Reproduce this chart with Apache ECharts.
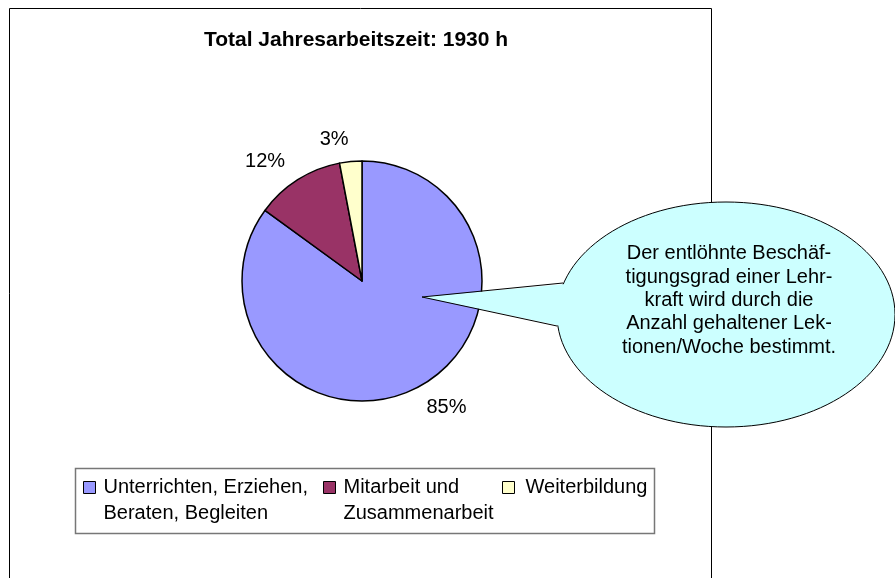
<!DOCTYPE html>
<html>
<head>
<meta charset="utf-8">
<script src="https://cdn.jsdelivr.net/npm/echarts@6/dist/echarts.min.js"></script>
<style>
  html, body { margin: 0; padding: 0; background: #fff; }
  #main { width: 895px; height: 578px; }
</style>
</head>
<body>
<div id="main"></div>
<script>
var categories = ['Unterrichten, Erziehen, Beraten, Begleiten', 'Mitarbeit und Zusammenarbeit', 'Weiterbildung']
// leading empty line keeps the first text line level with the legend square
var legendLabels = ['\nUnterrichten, Erziehen,\nBeraten, Begleiten', '\nMitarbeit und\nZusammenarbeit', 'Weiterbildung']
var values = [85, 12, 3]
var colors = ['#9999FF', '#993366', '#FFFFCC']
var titleText = 'Total Jahresarbeitszeit: 1930 h'
var calloutText = 'Der entlöhnte Beschäf-\ntigungsgrad einer Lehr-\nkraft wird durch die\nAnzahl gehaltener Lek-\ntionen/Woche bestimmt.'

var fontFamily = '"Liberation Sans", Arial, sans-serif'
var lineH = 25.5

var chart = echarts.init(document.getElementById('main'));

var pieData = categories.map(function (name, i) {
  return { name: name, value: values[i], itemStyle: { color: colors[i] } }
})

// one legend per entry, so each can sit at its own column
function makeLegend(i, left, top, gap) {
  return {
    data: [categories[i]],
    left: left,
    top: top,
    padding: 0,
    itemWidth: 12,
    itemHeight: 12,
    icon: 'rect',
    selectedMode: false,
    itemStyle: { borderColor: '#000', borderWidth: 1 },
    formatter: function () { return legendLabels[i] },
    textStyle: {
      fontFamily: fontFamily,
      fontSize: 20,
      color: '#000',
      lineHeight: lineH,
      padding: [0, 0, 0, gap]
    }
  }
}

var option = {
  animation: false,
  title: {
    text: titleText,
    left: 351,
    top: 25,
    textAlign: 'center',
    textStyle: { fontFamily: fontFamily, fontSize: 21, fontWeight: 'bold', color: '#000' }
  },
  legend: [
    makeLegend(0, 83, 481.5 - 1.5 * lineH + 6, 3),
    makeLegend(1, 323, 481.5 - 1.5 * lineH + 6, 3),
    makeLegend(2, 502, 481.5 - lineH / 2 + 6, 6)
  ],
  graphic: [
    {
      type: 'rect', z: -1,
      shape: { x: 9.5, y: 8.5, width: 702, height: 620 },
      style: { fill: '#fff', stroke: '#000', lineWidth: 1 }
    },
    {
      type: 'rect', z: 0,
      shape: { x: 75.5, y: 468.5, width: 579, height: 65 },
      style: { fill: 'none', stroke: '#777', lineWidth: 1.5 }
    },
    {
      type: 'ellipse', z: 10,
      shape: { cx: 726, cy: 314.5, rx: 169, ry: 112.5 },
      style: { fill: '#CCFFFF', stroke: '#000', lineWidth: 1 }
    },
    {
      type: 'polygon', z: 11,
      shape: { points: [[422, 297], [566, 284], [561, 326]] },
      style: { fill: '#CCFFFF', stroke: null }
    },
    {
      type: 'polyline', z: 12,
      shape: { points: [[563, 283], [422, 297], [557, 326]] },
      style: { fill: null, stroke: '#000', lineWidth: 1 }
    },
    {
      type: 'text', z: 13,
      x: 729, y: 300.5,
      style: {
        text: calloutText,
        fontFamily: fontFamily,
        fontSize: 20,
        lineHeight: 23.3,
        fill: '#000',
        align: 'center',
        verticalAlign: 'middle'
      }
    }
  ],
  series: [
    {
      type: 'pie',
      center: [362, 281],
      radius: 120,
      startAngle: 90,
      clockwise: true,
      z: 2,
      itemStyle: { borderColor: '#000', borderWidth: 1.5 },
      label: {
        show: true,
        position: 'outside',
        formatter: '{c}%',
        fontFamily: fontFamily,
        fontSize: 20,
        color: '#000',
        distanceToLabelLine: 0
      },
      labelLine: { show: false, length: 22, length2: 0 },
      emphasis: { disabled: true },
      data: pieData
    }
  ]
};
chart.setOption(option);
</script>
</body>
</html>
